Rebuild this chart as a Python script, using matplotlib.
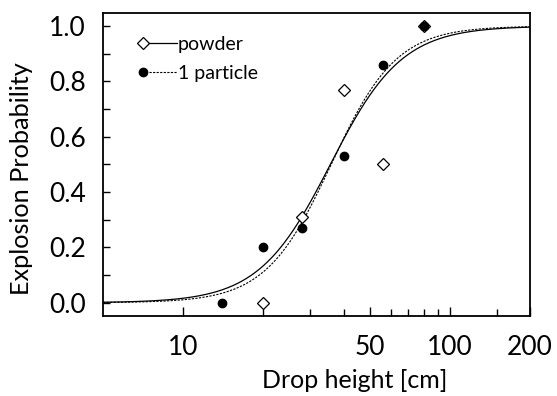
import numpy as np
import matplotlib
matplotlib.use("Agg")
import matplotlib.pyplot as plt
from matplotlib.lines import Line2D
from matplotlib.legend_handler import HandlerTuple
from matplotlib.ticker import FixedLocator, NullFormatter, FixedFormatter

plt.rcParams['font.family'] = ['Lato', 'DejaVu Sans']

# data
powder_height = [20, 28, 40, 56, 80]
powder_prob = [0.0, 0.31, 0.77, 0.50, 1.0]
particle_height = [14, 20, 28, 40, 56, 80]
particle_prob = [0.0, 0.20, 0.27, 0.53, 0.86, 1.0]

# fitted logistic curves in log10(height): (midpoint log10, scale)
powder_fit = (1.552, 0.1346)
particle_fit = (1.555, 0.1227)

x_major = [10, 50, 100, 200]
x_major_labels = ['10', '50', '100', '200']
x_minor = [20, 30, 40, 60, 70, 80, 90, 150]
y_ticks = [0.0, 0.2, 0.4, 0.6, 0.8, 1.0]
y_minor = [0.1, 0.3, 0.5, 0.7, 0.9]

fig = plt.figure(figsize=(5.57, 3.96), dpi=100)
ax = fig.add_axes([0.185, 0.202, 0.7665, 0.765])

xs = np.logspace(np.log10(5), np.log10(200), 400)

def logistic(x, p):
    m, s = p
    return 1.0 / (1.0 + np.exp(-(np.log10(x) - m) / s))

dash = (0, (2.0, 1.2))
ax.plot(xs, logistic(xs, powder_fit), color='black', lw=0.9, zorder=2)
ax.plot(xs, logistic(xs, particle_fit), color='black', lw=0.8, ls=dash, zorder=2)

ax.plot(powder_height, powder_prob, ls='none', marker='D', ms=6.0, mfc='white',
        mec='black', mew=0.9, zorder=3)
ax.plot(particle_height, particle_prob, ls='none', marker='o', ms=6.0, mfc='black',
        mec='black', zorder=4)

ax.set_xscale('log')
ax.set_xlim(5, 200)
ax.set_ylim(-0.048, 1.047)

ax.xaxis.set_major_locator(FixedLocator(x_major))
ax.xaxis.set_major_formatter(FixedFormatter(x_major_labels))
ax.xaxis.set_minor_locator(FixedLocator(x_minor))
ax.xaxis.set_minor_formatter(NullFormatter())
ax.yaxis.set_major_locator(FixedLocator(y_ticks))
ax.yaxis.set_minor_locator(FixedLocator(y_minor))
ax.set_yticklabels([f'{v:.1f}' for v in y_ticks])

ax.tick_params(axis='both', which='both', direction='in', top=False, right=False,
               labelsize=19, width=1.0, color='black')
ax.tick_params(axis='x', which='major', length=6.5, pad=14)
ax.tick_params(axis='x', which='minor', length=5)
ax.tick_params(axis='y', which='both', length=5, pad=12.5)

for sp in ax.spines.values():
    sp.set_linewidth(1.3)

ax.set_xlabel('Drop height [cm]', fontsize=18)
ax.xaxis.set_label_coords(0.59, -0.176)
ax.set_ylabel('Explosion Probability', fontsize=18.2)
ax.yaxis.set_label_coords(-0.163, 0.454)

h1 = (Line2D([], [], ls='none', marker='D', ms=6.0, mfc='white', mec='black', mew=0.9),
      Line2D([], [], color='black', lw=0.9))
h2 = (Line2D([], [], ls='none', marker='o', ms=6.0, mfc='black', mec='black'),
      Line2D([], [], color='black', lw=0.8, ls=dash))
ax.legend([h1, h2], ['powder', '1 particle'],
          handler_map={tuple: HandlerTuple(ndivide=2, pad=-0.41)},
          loc='upper left', bbox_to_anchor=(0.061, 0.924), frameon=False,
          fontsize=14, handlelength=2.47, handletextpad=0.05, labelspacing=0.6,
          borderaxespad=0.0, borderpad=0.0)

fig.savefig('out.png', dpi=100)
